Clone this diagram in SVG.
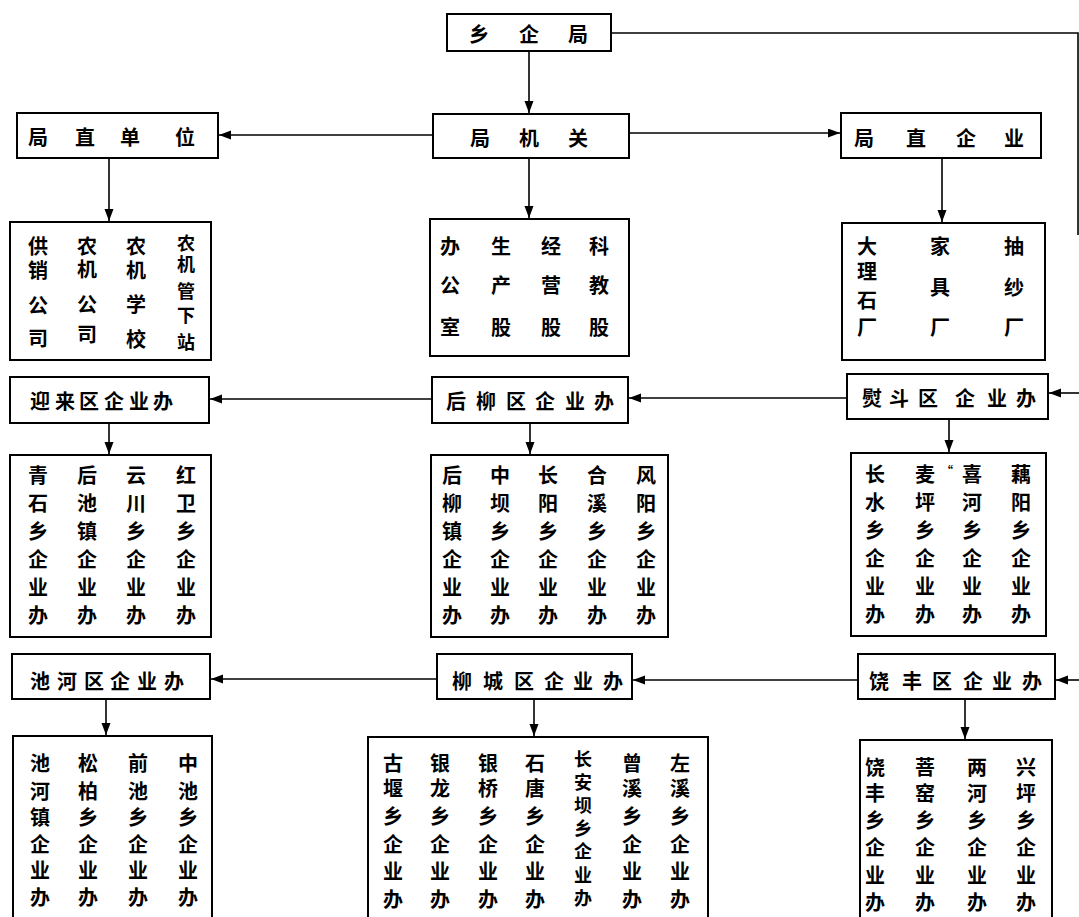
<svg xmlns="http://www.w3.org/2000/svg" width="1079" height="917" viewBox="0 0 1079 917">
<style>
.box{fill:#fff;stroke:#000;stroke-width:2}
.t{font-family:"Noto Sans CJK SC","Noto Sans CJK TC",sans-serif;font-weight:700;font-size:20px;text-anchor:middle;dominant-baseline:central;fill:#000}
.h{font-size:20px}
.d{font-size:18px}
.c{stroke:#000;stroke-width:1.6;fill:none}
.a{marker-end:url(#arr)}
</style>
<defs>
<marker id="arr" markerUnits="userSpaceOnUse" markerWidth="13" markerHeight="10" refX="12" refY="4.5" orient="auto">
<path d="M0,0 L12,4.5 L0,9 z" fill="#000"/>
</marker>
</defs>
<rect width="1079" height="917" fill="#fff"/>
<g id="connectors">
<line class="c a" x1="529" y1="51" x2="529" y2="113"/>
<line class="c a" x1="433" y1="135" x2="219" y2="135"/>
<line class="c a" x1="629" y1="133" x2="840" y2="133"/>
<polyline class="c" points="611,33 1078,33 1078,235"/>
<line class="c a" x1="109" y1="158" x2="109" y2="221"/>
<line class="c a" x1="529" y1="158" x2="529" y2="218"/>
<line class="c a" x1="942" y1="158" x2="942" y2="222"/>
<line class="c a" x1="432" y1="399" x2="210" y2="399"/>
<line class="c a" x1="847" y1="398" x2="629" y2="398"/>
<line class="c a" x1="1079" y1="393" x2="1049" y2="393"/>
<line class="c a" x1="109" y1="423" x2="109" y2="454"/>
<line class="c a" x1="530" y1="423" x2="530" y2="454"/>
<line class="c a" x1="949" y1="419" x2="949" y2="452"/>
<line class="c a" x1="437" y1="679" x2="211" y2="679"/>
<line class="c a" x1="858" y1="680" x2="633" y2="680"/>
<line class="c a" x1="1079" y1="680" x2="1056" y2="680"/>
<line class="c a" x1="106" y1="699" x2="106" y2="735"/>
<line class="c a" x1="534" y1="699" x2="534" y2="736"/>
<line class="c a" x1="965" y1="699" x2="965" y2="739"/>
</g>
<g id="n1"><rect class="box" x="447" y="14" width="164" height="37"/>
<text class="t h"><tspan x="479" y="33">乡</tspan><tspan x="529" y="33">企</tspan><tspan x="578" y="33">局</tspan></text></g>
<g id="n2"><rect class="box" x="433" y="114" width="196" height="44"/>
<text class="t h"><tspan x="480" y="137">局</tspan><tspan x="529" y="137">机</tspan><tspan x="578" y="137">关</tspan></text></g>
<g id="n3"><rect class="box" x="17" y="113" width="201" height="45"/>
<text class="t h"><tspan x="38" y="136">局</tspan><tspan x="85" y="136">直</tspan><tspan x="130" y="136">单</tspan><tspan x="185" y="136">位</tspan></text></g>
<g id="n4"><rect class="box" x="841" y="113" width="200" height="45"/>
<text class="t h"><tspan x="864" y="137">局</tspan><tspan x="916" y="137">直</tspan><tspan x="966" y="137">企</tspan><tspan x="1014" y="137">业</tspan></text></g>
<g id="n5"><rect class="box" x="10" y="222" width="201" height="138"/>
<text class="t h"><tspan x="38" y="245">供</tspan><tspan x="38" y="269">销</tspan><tspan x="38" y="304">公</tspan><tspan x="38" y="337">司</tspan></text>
<text class="t h"><tspan x="87" y="245">农</tspan><tspan x="87" y="268">机</tspan><tspan x="87" y="303">公</tspan><tspan x="87" y="333">司</tspan></text>
<text class="t h"><tspan x="136" y="245">农</tspan><tspan x="136" y="269">机</tspan><tspan x="136" y="303">学</tspan><tspan x="136" y="338">校</tspan></text>
<text class="t d"><tspan x="186" y="242">农</tspan><tspan x="186" y="263">机</tspan><tspan x="186" y="290">管</tspan><tspan x="186" y="314">下</tspan><tspan x="186" y="341">站</tspan></text></g>
<g id="n6"><rect class="box" x="430" y="219" width="199" height="137"/>
<text class="t h"><tspan x="450" y="245">办</tspan><tspan x="450" y="284">公</tspan><tspan x="450" y="326">室</tspan></text>
<text class="t h"><tspan x="501" y="245">生</tspan><tspan x="501" y="284">产</tspan><tspan x="501" y="326">股</tspan></text>
<text class="t h"><tspan x="551" y="245">经</tspan><tspan x="551" y="284">营</tspan><tspan x="551" y="326">股</tspan></text>
<text class="t h"><tspan x="599" y="245">科</tspan><tspan x="599" y="284">教</tspan><tspan x="599" y="326">股</tspan></text></g>
<g id="n7"><rect class="box" x="842" y="223" width="203" height="137"/>
<text class="t h"><tspan x="867" y="245">大</tspan><tspan x="867" y="270">理</tspan><tspan x="867" y="299">石</tspan><tspan x="867" y="326">厂</tspan></text>
<text class="t h"><tspan x="940" y="245">家</tspan><tspan x="940" y="286">具</tspan><tspan x="940" y="326">厂</tspan></text>
<text class="t h"><tspan x="1014" y="245">抽</tspan><tspan x="1014" y="286">纱</tspan><tspan x="1014" y="326">厂</tspan></text></g>
<g id="n8"><rect class="box" x="10" y="377" width="199" height="46"/>
<text class="t"><tspan x="40" y="400">迎</tspan><tspan x="65" y="400">来</tspan><tspan x="89" y="400">区</tspan><tspan x="114" y="400">企</tspan><tspan x="139" y="400">业</tspan><tspan x="163" y="400">办</tspan></text></g>
<g id="n9"><rect class="box" x="432" y="377" width="196" height="46"/>
<text class="t"><tspan x="456" y="400">后</tspan><tspan x="486" y="400">柳</tspan><tspan x="516" y="400">区</tspan><tspan x="545" y="400">企</tspan><tspan x="575" y="400">业</tspan><tspan x="604" y="400">办</tspan></text></g>
<g id="n10"><rect class="box" x="847" y="374" width="201" height="45"/>
<text class="t"><tspan x="872" y="397">熨</tspan><tspan x="899" y="397">斗</tspan><tspan x="928" y="397">区</tspan><tspan x="965" y="397">企</tspan><tspan x="997" y="397">业</tspan><tspan x="1026" y="397">办</tspan></text></g>
<g id="n11"><rect class="box" x="10" y="455" width="201" height="182"/>
<text class="t"><tspan x="38" y="474">青</tspan><tspan x="38" y="502">石</tspan><tspan x="38" y="530">乡</tspan><tspan x="38" y="558">企</tspan><tspan x="38" y="586">业</tspan><tspan x="38" y="614">办</tspan></text>
<text class="t"><tspan x="87" y="474">后</tspan><tspan x="87" y="502">池</tspan><tspan x="87" y="530">镇</tspan><tspan x="87" y="558">企</tspan><tspan x="87" y="586">业</tspan><tspan x="87" y="614">办</tspan></text>
<text class="t"><tspan x="136" y="474">云</tspan><tspan x="136" y="502">川</tspan><tspan x="136" y="530">乡</tspan><tspan x="136" y="558">企</tspan><tspan x="136" y="586">业</tspan><tspan x="136" y="614">办</tspan></text>
<text class="t"><tspan x="186" y="474">红</tspan><tspan x="186" y="502">卫</tspan><tspan x="186" y="530">乡</tspan><tspan x="186" y="558">企</tspan><tspan x="186" y="586">业</tspan><tspan x="186" y="614">办</tspan></text></g>
<g id="n12"><rect class="box" x="431" y="455" width="237" height="182"/>
<text class="t"><tspan x="452" y="474">后</tspan><tspan x="452" y="502">柳</tspan><tspan x="452" y="530">镇</tspan><tspan x="452" y="558">企</tspan><tspan x="452" y="586">业</tspan><tspan x="452" y="614">办</tspan></text>
<text class="t"><tspan x="500" y="474">中</tspan><tspan x="500" y="502">坝</tspan><tspan x="500" y="530">乡</tspan><tspan x="500" y="558">企</tspan><tspan x="500" y="586">业</tspan><tspan x="500" y="614">办</tspan></text>
<text class="t"><tspan x="548" y="474">长</tspan><tspan x="548" y="502">阳</tspan><tspan x="548" y="530">乡</tspan><tspan x="548" y="558">企</tspan><tspan x="548" y="586">业</tspan><tspan x="548" y="614">办</tspan></text>
<text class="t"><tspan x="597" y="474">合</tspan><tspan x="597" y="502">溪</tspan><tspan x="597" y="530">乡</tspan><tspan x="597" y="558">企</tspan><tspan x="597" y="586">业</tspan><tspan x="597" y="614">办</tspan></text>
<text class="t"><tspan x="646" y="474">风</tspan><tspan x="646" y="502">阳</tspan><tspan x="646" y="530">乡</tspan><tspan x="646" y="558">企</tspan><tspan x="646" y="586">业</tspan><tspan x="646" y="614">办</tspan></text></g>
<g id="n13"><rect class="box" x="851" y="453" width="195" height="183"/>
<text class="t"><tspan x="875" y="473">长</tspan><tspan x="875" y="501">水</tspan><tspan x="875" y="529">乡</tspan><tspan x="875" y="557">企</tspan><tspan x="875" y="585">业</tspan><tspan x="875" y="613">办</tspan></text>
<text class="t"><tspan x="925" y="473">麦</tspan><tspan x="925" y="501">坪</tspan><tspan x="925" y="529">乡</tspan><tspan x="925" y="557">企</tspan><tspan x="925" y="585">业</tspan><tspan x="925" y="613">办</tspan></text>
<text class="t" style="font-size:12px"><tspan x="947" y="470">“</tspan></text>
<text class="t"><tspan x="972" y="473">喜</tspan><tspan x="972" y="501">河</tspan><tspan x="972" y="529">乡</tspan><tspan x="972" y="557">企</tspan><tspan x="972" y="585">业</tspan><tspan x="972" y="613">办</tspan></text>
<text class="t"><tspan x="1021" y="473">藕</tspan><tspan x="1021" y="501">阳</tspan><tspan x="1021" y="529">乡</tspan><tspan x="1021" y="557">企</tspan><tspan x="1021" y="585">业</tspan><tspan x="1021" y="613">办</tspan></text></g>
<g id="n14"><rect class="box" x="12" y="654" width="198" height="45"/>
<text class="t"><tspan x="40" y="680">池</tspan><tspan x="67" y="680">河</tspan><tspan x="94" y="680">区</tspan><tspan x="120" y="680">企</tspan><tspan x="147" y="680">业</tspan><tspan x="174" y="680">办</tspan></text></g>
<g id="n15"><rect class="box" x="437" y="654" width="195" height="45"/>
<text class="t"><tspan x="462" y="680">柳</tspan><tspan x="493" y="680">城</tspan><tspan x="524" y="680">区</tspan><tspan x="554" y="680">企</tspan><tspan x="583" y="680">业</tspan><tspan x="613" y="680">办</tspan></text></g>
<g id="n16"><rect class="box" x="858" y="654" width="197" height="45"/>
<text class="t"><tspan x="879" y="680">饶</tspan><tspan x="912" y="680">丰</tspan><tspan x="942" y="680">区</tspan><tspan x="973" y="680">企</tspan><tspan x="1002" y="680">业</tspan><tspan x="1032" y="680">办</tspan></text></g>
<g id="n17"><rect class="box" x="13" y="736" width="199" height="200"/>
<text class="t"><tspan x="40" y="762">池</tspan><tspan x="40" y="790">河</tspan><tspan x="40" y="816">镇</tspan><tspan x="40" y="843">企</tspan><tspan x="40" y="869">业</tspan><tspan x="40" y="896">办</tspan></text>
<text class="t"><tspan x="88" y="762">松</tspan><tspan x="88" y="790">柏</tspan><tspan x="88" y="816">乡</tspan><tspan x="88" y="843">企</tspan><tspan x="88" y="869">业</tspan><tspan x="88" y="896">办</tspan></text>
<text class="t"><tspan x="138" y="762">前</tspan><tspan x="138" y="790">池</tspan><tspan x="138" y="816">乡</tspan><tspan x="138" y="843">企</tspan><tspan x="138" y="869">业</tspan><tspan x="138" y="896">办</tspan></text>
<text class="t"><tspan x="188" y="762">中</tspan><tspan x="188" y="790">池</tspan><tspan x="188" y="816">乡</tspan><tspan x="188" y="843">企</tspan><tspan x="188" y="869">业</tspan><tspan x="188" y="896">办</tspan></text></g>
<g id="n18"><rect class="box" x="368" y="737" width="340" height="200"/>
<text class="t"><tspan x="393" y="762">古</tspan><tspan x="393" y="787">堰</tspan><tspan x="393" y="815">乡</tspan><tspan x="393" y="843">企</tspan><tspan x="393" y="870">业</tspan><tspan x="393" y="898">办</tspan></text>
<text class="t"><tspan x="440" y="762">银</tspan><tspan x="440" y="787">龙</tspan><tspan x="440" y="815">乡</tspan><tspan x="440" y="843">企</tspan><tspan x="440" y="870">业</tspan><tspan x="440" y="898">办</tspan></text>
<text class="t"><tspan x="488" y="762">银</tspan><tspan x="488" y="787">桥</tspan><tspan x="488" y="815">乡</tspan><tspan x="488" y="843">企</tspan><tspan x="488" y="870">业</tspan><tspan x="488" y="898">办</tspan></text>
<text class="t"><tspan x="535" y="762">石</tspan><tspan x="535" y="787">唐</tspan><tspan x="535" y="815">乡</tspan><tspan x="535" y="843">企</tspan><tspan x="535" y="870">业</tspan><tspan x="535" y="898">办</tspan></text>
<text class="t d"><tspan x="583" y="758">长</tspan><tspan x="583" y="781">安</tspan><tspan x="583" y="804">坝</tspan><tspan x="583" y="827">乡</tspan><tspan x="583" y="850">企</tspan><tspan x="583" y="874">业</tspan><tspan x="583" y="897">办</tspan></text>
<text class="t"><tspan x="632" y="762">曾</tspan><tspan x="632" y="787">溪</tspan><tspan x="632" y="815">乡</tspan><tspan x="632" y="843">企</tspan><tspan x="632" y="870">业</tspan><tspan x="632" y="898">办</tspan></text>
<text class="t"><tspan x="680" y="762">左</tspan><tspan x="680" y="787">溪</tspan><tspan x="680" y="815">乡</tspan><tspan x="680" y="843">企</tspan><tspan x="680" y="870">业</tspan><tspan x="680" y="898">办</tspan></text></g>
<g id="n19"><rect class="box" x="860" y="740" width="192" height="200"/>
<text class="t"><tspan x="875" y="766">饶</tspan><tspan x="875" y="792">丰</tspan><tspan x="875" y="819">乡</tspan><tspan x="875" y="846">企</tspan><tspan x="875" y="874">业</tspan><tspan x="875" y="901">办</tspan></text>
<text class="t"><tspan x="925" y="766">菩</tspan><tspan x="925" y="792">窑</tspan><tspan x="925" y="819">乡</tspan><tspan x="925" y="846">企</tspan><tspan x="925" y="874">业</tspan><tspan x="925" y="901">办</tspan></text>
<text class="t"><tspan x="977" y="766">两</tspan><tspan x="977" y="792">河</tspan><tspan x="977" y="819">乡</tspan><tspan x="977" y="846">企</tspan><tspan x="977" y="874">业</tspan><tspan x="977" y="901">办</tspan></text>
<text class="t"><tspan x="1026" y="766">兴</tspan><tspan x="1026" y="792">坪</tspan><tspan x="1026" y="819">乡</tspan><tspan x="1026" y="846">企</tspan><tspan x="1026" y="874">业</tspan><tspan x="1026" y="901">办</tspan></text></g>
</svg>
